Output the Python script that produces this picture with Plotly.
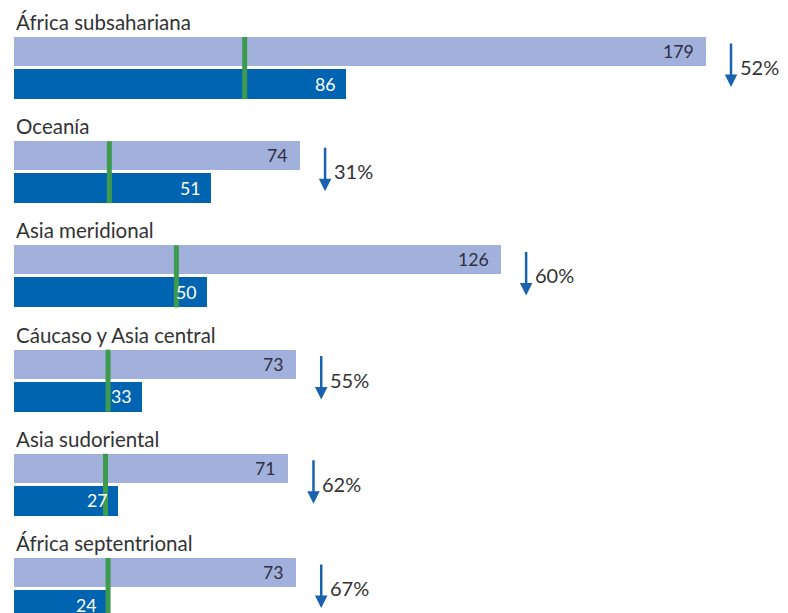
import plotly.graph_objects as go

# Datos por región
regiones = ["África subsahariana", "Oceanía", "Asia meridional",
            "Cáucaso y Asia central", "Asia sudoriental", "África septentrional"]
valores_1990 = [179, 74, 126, 73, 71, 73]
valores_2015 = [86, 51, 50, 33, 27, 24]
reduccion = ["52%", "31%", "60%", "55%", "62%", "67%"]
meta = [v / 3 for v in valores_1990]  # meta: reducir en dos tercios

# geometría (unidades del eje y ~ píxeles de la página)
paso = 104.2
px_x = 3.866  # píxeles por unidad en el eje x
base = [i * paso for i in range(len(regiones))]
y_claro = [b + 51.5 for b in base]
y_oscuro = [b + 84 for b in base]

claro = "#a2b1dc"
oscuro = "#0064b1"
verde = "#3e9a4c"
azul_flecha = "#1a62ad"
texto = "#333333"
fuente = "Lato"

fig = go.Figure()
fig.add_trace(go.Bar(x=valores_1990, y=y_claro, orientation="h", width=29,
                     marker=dict(color=claro, line_width=0), hoverinfo="skip"))
fig.add_trace(go.Bar(x=valores_2015, y=y_oscuro, orientation="h", width=30,
                     marker=dict(color=oscuro, line_width=0), hoverinfo="skip"))

for i, reg in enumerate(regiones):
    b = base[i]
    # línea verde de la meta
    fig.add_shape(type="line", x0=meta[i], x1=meta[i], y0=b + 37, y1=b + 99,
                  xref="x", yref="y", line=dict(color=verde, width=5), layer="above")
    # nombre de la región
    fig.add_annotation(x=0, xref="paper", y=b + 22, yref="y", text=reg, showarrow=False,
                       xanchor="left", yanchor="middle", font=dict(family=fuente, size=20.5, color=texto))
    # valores en las barras
    fig.add_annotation(x=valores_1990[i], y=y_claro[i], text=str(valores_1990[i]), showarrow=False,
                       xanchor="right", xshift=-10, font=dict(family=fuente, size=17.7, color="#2e2e40"))
    fig.add_annotation(x=valores_2015[i], y=y_oscuro[i], text=str(valores_2015[i]), showarrow=False,
                       xanchor="right", xshift=-8, font=dict(family=fuente, size=17.7, color="white"))
    # flecha y porcentaje de reducción
    xf = valores_1990[i] + 25 / px_x
    fig.add_annotation(x=xf, y=b + 87, ax=xf, ay=b + 42, axref="x", ayref="y", text="",
                       showarrow=True, arrowhead=2, arrowsize=1, arrowwidth=2.5, arrowcolor=azul_flecha)
    fig.add_annotation(x=valores_1990[i] + 32 / px_x, y=b + 67, text=reduccion[i], showarrow=False,
                       xanchor="left", yanchor="middle", font=dict(family=fuente, size=20, color=texto))

# la página tiene 8 px de margen; la figura ocupa el resto de la ventana
fig.update_layout(
    width=780, height=605,
    margin=dict(l=6, r=0, t=0, b=0),
    plot_bgcolor="white", paper_bgcolor="white",
    showlegend=False, barmode="overlay", bargap=0,
    xaxis=dict(range=[0, 774 / px_x], visible=False, fixedrange=True),
    yaxis=dict(range=[613, 8], visible=False, fixedrange=True),
)

fig.write_html("out.html")
